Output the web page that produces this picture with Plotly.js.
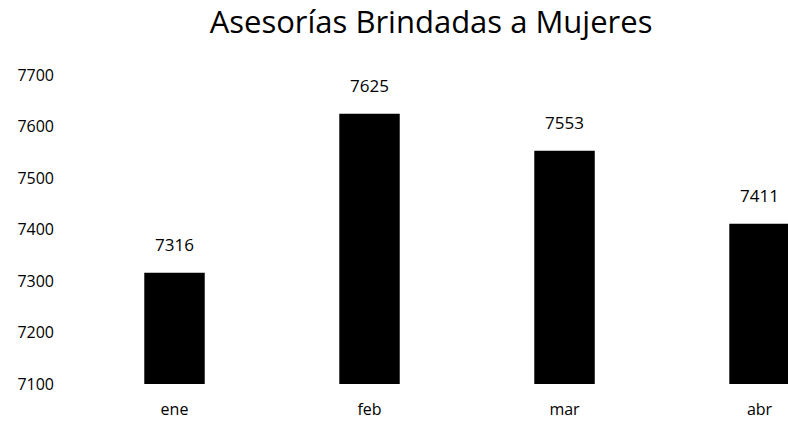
<!DOCTYPE html>
<html><head><meta charset="utf-8">
<script src="https://cdn.plot.ly/plotly-3.0.1.min.js"></script>
<style>html,body{margin:0;padding:0;background:#fff}</style>
</head><body>
<div id="chart" style="width:788px;height:425px"></div>
<script>
var categories = ["ene", "feb", "mar", "abr"];
var values = [7316, 7625, 7553, 7411];
var tickVals = [7100, 7200, 7300, 7400, 7500, 7600, 7700];
var titleText = "Asesorías Brindadas a Mujeres";
var axisBase = 7100;

var FONT = "Open Sans, sans-serif";
var trace = {
  type: "bar",
  x: categories,
  y: values.map(function(v){ return v - axisBase; }),
  base: axisBase,
  marker: {color: "#000000", line: {width: 0}},
  hoverinfo: "none"
};

var annotations = categories.map(function(c, i){
  return {x: c, y: values[i], xref: "x", yref: "y", text: String(values[i]),
    showarrow: false, yanchor: "bottom", yshift: 15,
    font: {family: FONT, size: 17, color: "#000"}};
});

var layout = {
  width: 788, height: 425,
  margin: {l: 77, r: 0, t: 75, b: 41, pad: 0},
  paper_bgcolor: "#fff", plot_bgcolor: "#fff",
  title: {text: titleText, font: {family: FONT, size: 31, color: "#000"},
    xref: "container", x: 0.547, xanchor: "center", yref: "container", y: 0.948, yanchor: "middle"},
  bargap: 0.69,
  showlegend: false,
  xaxis: {type: "category", range: [-0.5, 3.146], showgrid: false, zeroline: false, showline: false,
    ticks: "", tickfont: {family: FONT, size: 16, color: "#000"}, ticklabelstandoff: 14, fixedrange: true},
  yaxis: {range: [7100, 7700], tickvals: tickVals, ticktext: tickVals.map(String), showgrid: false,
    zeroline: false, showline: false, ticks: "", tickfont: {family: FONT, size: 16, color: "#000"},
    ticklabelstandoff: 22, fixedrange: true},
  annotations: annotations
};
Plotly.newPlot("chart", [trace], layout, {staticPlot: true, displayModeBar: false});
</script>
</body></html>
